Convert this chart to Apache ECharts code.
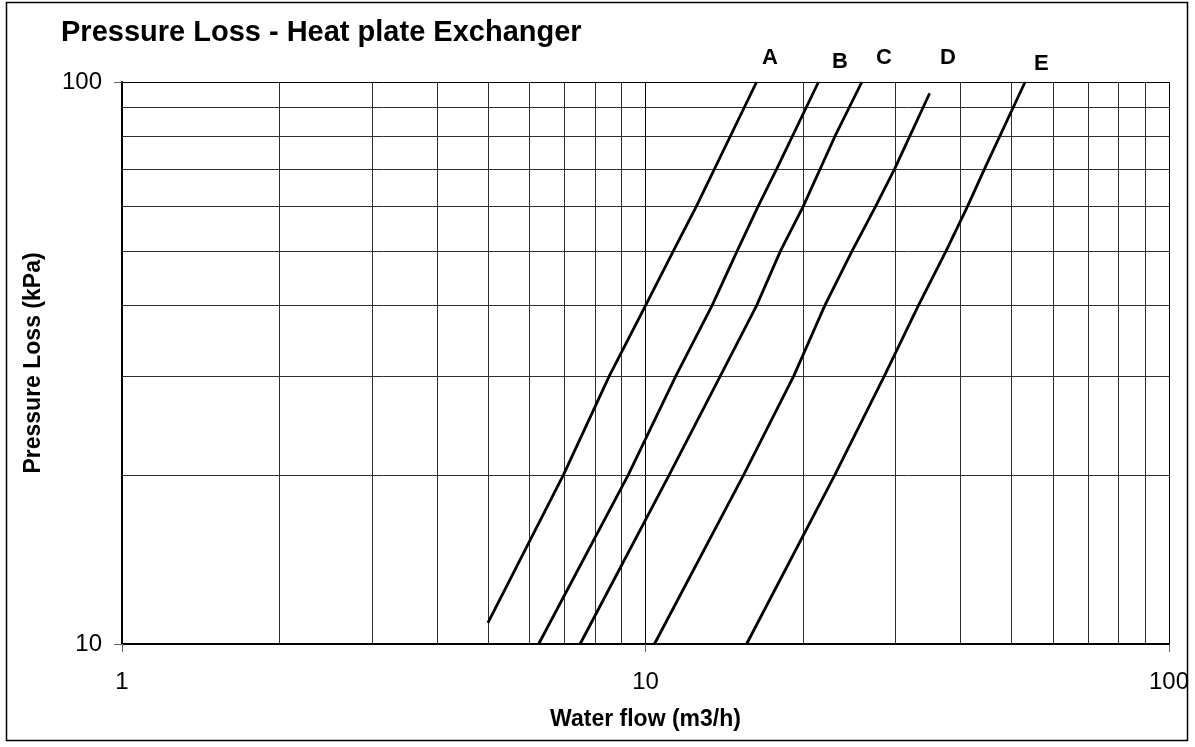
<!DOCTYPE html>
<html>
<head>
<meta charset="utf-8">
<script src="https://cdn.jsdelivr.net/npm/echarts@6/dist/echarts.min.js"></script>
<style>
html,body{margin:0;padding:0;background:#fff;}
#chart{width:1195px;height:747px;}
</style>
</head>
<body>
<div id="chart"></div>
<script>
// ---- data (x = water flow m3/h, y = pressure loss kPa) ----
const SERIES_NAMES = ['A', 'B', 'C', 'D', 'E'];
const A_FLOW = [5.0, 6.97, 8.53, 10.0, 11.3, 12.5, 16.3];
const A_LOSS = [10.9, 20, 30, 40, 50, 60, 100];
const B_FLOW = [6.25, 9.27, 11.43, 13.4, 14.96, 16.4, 17.8, 21.4];
const B_LOSS = [10, 20, 30, 40, 50, 60, 70, 100];
const C_FLOW = [7.5, 11.1, 13.9, 16.3, 18.1, 20.0, 23.0, 25.9];
const C_LOSS = [10, 20, 30, 40, 50, 60, 80, 100];
const D_FLOW = [10.4, 15.4, 19.2, 22.0, 24.8, 27.5, 29.9, 34.9];
const D_LOSS = [10, 20, 30, 40, 50, 60, 70, 95.5];
const E_FLOW = [15.6, 23.0, 28.6, 33.2, 37.5, 41.2, 44.4, 53.1];
const E_LOSS = [10, 20, 30, 40, 50, 60, 70, 100];
const X_MINOR_GRID = [2, 3, 4, 5, 6, 7, 8, 9, 20, 30, 40, 50, 60, 70, 80, 90];
const Y_MINOR_GRID = [20, 30, 40, 50, 60, 70, 80, 90];
const X_RANGE = [1, 100];
const Y_RANGE = [10, 100];

const FLOWS = [A_FLOW, B_FLOW, C_FLOW, D_FLOW, E_FLOW];
const LOSSES = [A_LOSS, B_LOSS, C_LOSS, D_LOSS, E_LOSS];

const FONT = '"Liberation Sans", Arial, sans-serif';
const chart = echarts.init(document.getElementById('chart'), null, {renderer: 'canvas'});

const series = SERIES_NAMES.map((name, i) => ({
  name: name,
  type: 'line',
  data: FLOWS[i].map((f, j) => [f, LOSSES[i][j]]),
  symbol: 'none',
  smooth: false,
  clip: true,
  lineStyle: {color: '#000', width: 2.8},
  z: 5,
  silent: true
}));

// minor grid lines drawn via markLine on a helper series (positioned by the axes)
series.push({
  name: 'grid',
  type: 'line',
  data: [],
  silent: true,
  z: 1,
  markLine: {
    silent: true,
    symbol: ['none', 'none'],
    label: {show: false},
    animation: false,
    lineStyle: {color: '#2e2e2e', width: 1, type: 'solid'},
    data: X_MINOR_GRID.map(v => ({xAxis: v})).concat(Y_MINOR_GRID.map(v => ({yAxis: v})))
  }
});

const option = {
  animation: false,
  backgroundColor: '#fff',
  title: {
    text: 'Pressure Loss - Heat plate Exchanger',
    left: 56, top: 13,
    textStyle: {fontFamily: FONT, fontSize: 29, fontWeight: 'bold', color: '#000'}
  },
  grid: {left: 122, right: 26, top: 82, bottom: 103, containLabel: false},
  xAxis: {
    type: 'log', logBase: 10, min: X_RANGE[0], max: X_RANGE[1],
    name: 'Water flow (m3/h)', nameLocation: 'middle', nameGap: 64,
    nameTextStyle: {fontFamily: FONT, fontSize: 23, fontWeight: 'bold', color: '#000'},
    axisLine: {show: true, lineStyle: {color: '#000', width: 2}},
    axisTick: {show: true, length: 8, lineStyle: {color: '#666', width: 1}},
    axisLabel: {fontFamily: FONT, fontSize: 24, color: '#000', margin: 26},
    splitLine: {show: true, lineStyle: {color: '#000', width: 1}}
  },
  yAxis: {
    type: 'log', logBase: 10, min: Y_RANGE[0], max: Y_RANGE[1],
    name: 'Pressure Loss (kPa)', nameLocation: 'middle', nameGap: 77,
    nameTextStyle: {fontFamily: FONT, fontSize: 23, fontWeight: 'bold', color: '#000'},
    axisLine: {show: true, lineStyle: {color: '#000', width: 2}},
    axisTick: {show: true, length: 8, lineStyle: {color: '#666', width: 1}},
    axisLabel: {fontFamily: FONT, fontSize: 24, color: '#000', margin: 20},
    splitLine: {show: true, lineStyle: {color: '#000', width: 1}}
  },
  graphic: [
    {type: 'rect', shape: {x: 6.5, y: 2.5, width: 1181, height: 738}, style: {fill: 'none', stroke: '#000', lineWidth: 1.5}, z: 100, silent: true},
    {type: 'text', left: 762, top: 47, style: {text: 'A', font: 'bold 22px ' + FONT, fill: '#000'}},
    {type: 'text', left: 832, top: 51, style: {text: 'B', font: 'bold 22px ' + FONT, fill: '#000'}},
    {type: 'text', left: 876, top: 47, style: {text: 'C', font: 'bold 22px ' + FONT, fill: '#000'}},
    {type: 'text', left: 940, top: 47, style: {text: 'D', font: 'bold 22px ' + FONT, fill: '#000'}},
    {type: 'text', left: 1034, top: 53, style: {text: 'E', font: 'bold 22px ' + FONT, fill: '#000'}}
  ],
  series: series
};
chart.setOption(option);
</script>
</body>
</html>
